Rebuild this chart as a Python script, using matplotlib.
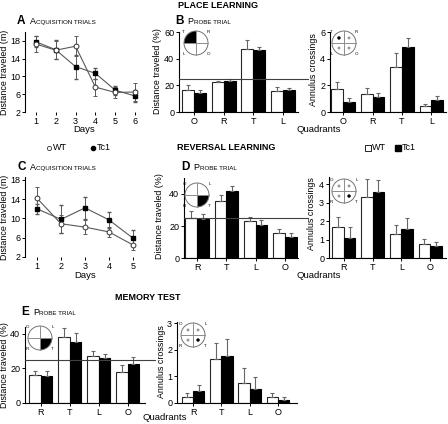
import matplotlib
matplotlib.use('Agg')
import matplotlib.pyplot as plt
from matplotlib.patches import Circle, Wedge, Rectangle
from matplotlib.lines import Line2D
from matplotlib.offsetbox import TextArea, HPacker, AnnotationBbox
import numpy as np

plt.rcParams['font.family'] = ['Liberation Sans', 'DejaVu Sans']
plt.rcParams['font.size'] = 6

W, H = 448, 424

# acquisition trials, place learning (A)
days_a = [1, 2, 3, 4, 5, 6]
wt_a = [17.3, 15.9, 16.8, 7.6, 6.4, 6.5]
wt_a_err = [1.7, 2.0, 2.3, 1.9, 1.2, 2.1]
tc1_a = [17.8, 16.0, 12.2, 10.7, 6.9, 5.6]
tc1_a_err = [1.2, 2.1, 2.7, 1.2, 1.0, 1.4]

# acquisition trials, reversal learning (C)
days_c = [1, 2, 3, 4, 5]
wt_c = [14.2, 8.9, 8.2, 7.2, 4.5]
wt_c_err = [2.4, 1.9, 1.4, 1.1, 1.1]
tc1_c = [12.0, 9.8, 12.2, 9.7, 5.9]
tc1_c_err = [1.1, 2.9, 2.3, 1.7, 1.6]

# probe trial, place learning (B)
quad_b = ['O', 'R', 'T', 'L']
wt_b_dist = [16.2, 22.2, 47.4, 16.0]
wt_b_dist_err = [3.8, 1.1, 6.3, 2.4]
tc1_b_dist = [14.3, 23.3, 46.5, 16.6]
tc1_b_dist_err = [2.4, 1.6, 2.4, 1.6]
wt_b_ann = [1.7, 1.35, 3.4, 0.45]
wt_b_ann_err = [0.55, 0.42, 1.0, 0.18]
tc1_b_ann = [0.78, 1.1, 4.9, 0.9]
tc1_b_ann_err = [0.3, 0.3, 0.65, 0.33]

# probe trial, reversal learning (D)
quad_d = ['R', 'T', 'L', 'O']
wt_d_dist = [25.3, 35.8, 23.2, 15.4]
wt_d_dist_err = [3.8, 3.8, 2.7, 2.5]
tc1_d_dist = [24.2, 42.1, 20.4, 13.3]
tc1_d_dist_err = [3.0, 2.7, 3.2, 2.1]
wt_d_ann = [1.66, 3.33, 1.33, 0.75]
wt_d_ann_err = [0.57, 0.96, 0.48, 0.3]
tc1_d_ann = [1.1, 3.56, 1.56, 0.67]
tc1_d_ann_err = [0.6, 0.69, 0.63, 0.2]

# probe trial, memory test (E)
quad_e = ['R', 'T', 'L', 'O']
wt_e_dist = [16.2, 38.1, 27.1, 18.0]
wt_e_dist_err = [2.5, 5.6, 3.2, 3.8]
tc1_e_dist = [15.6, 35.3, 25.9, 22.5]
tc1_e_dist_err = [2.8, 5.3, 2.5, 4.4]
wt_e_ann = [0.23, 1.66, 0.75, 0.23]
wt_e_ann_err = [0.15, 0.6, 0.57, 0.15]
tc1_e_ann = [0.44, 1.78, 0.54, 0.1]
tc1_e_ann_err = [0.25, 0.63, 0.45, 0.13]

chance = 25


def rect(l, t, r, b):
    return [l / W, 1 - b / H, (r - l) / W, (b - t) / H]


def fx(x):
    return x / W


def fy(y):
    return 1 - y / H


def style_ax(ax, bottom=True):
    for s in ['top', 'right']:
        ax.spines[s].set_visible(False)
    ax.spines['bottom'].set_visible(bottom)
    ax.spines['left'].set_linewidth(0.8)
    ax.spines['bottom'].set_linewidth(0.8)
    ax.tick_params(direction='out', length=2.5, width=0.7, labelsize=6.5, pad=1)


def line_panel(ax, days, wt, wt_err, tc1, tc1_err, yticks, ylim, xlim):
    ax.errorbar(days, tc1, yerr=tc1_err, color='0.35', lw=0.8, elinewidth=0.7, capsize=1.5,
                marker='s', ms=3, mfc='black', mec='black')
    ax.errorbar(days, wt, yerr=wt_err, color='0.35', lw=0.8, elinewidth=0.7, capsize=1.5,
                marker='o', ms=3.5, mfc='white', mec='0.2', mew=0.7)
    ax.set_xticks(days)
    ax.set_yticks(yticks)
    ax.set_ylim(*ylim)
    ax.set_xlim(*xlim)
    style_ax(ax, bottom=False)


def bar_panel(ax, labels, wt, wt_err, tc1, tc1_err, yticks, ylim, xlim, line=False):
    x = np.arange(len(labels))
    w = 0.4
    ax.bar(x - w / 2, wt, w, color='white', edgecolor='0.15', lw=0.8,
           yerr=[np.zeros(len(wt)), wt_err], error_kw=dict(ecolor='0.4', elinewidth=0.8, capsize=1.5, capthick=0.8))
    ax.bar(x + w / 2, tc1, w, color='black', edgecolor='black', lw=0.8,
           yerr=[np.zeros(len(tc1)), tc1_err], error_kw=dict(ecolor='0.4', elinewidth=0.8, capsize=1.5, capthick=0.8))
    if line:
        ax.plot([xlim[0], xlim[1] + 0.35], [chance, chance], color='0.25', lw=0.8, clip_on=False, zorder=5)
    ax.set_xticks(x)
    ax.set_xticklabels(labels, fontsize=7.2)
    ax.set_yticks(yticks)
    ax.set_ylim(*ylim)
    ax.set_xlim(*xlim)
    style_ax(ax)


def pool_inset(fig, cx, cy, labels, target, dots=False, r=12):
    # labels: top-left, top-right, bottom-left, bottom-right
    s = 2 * r + 14
    ax = fig.add_axes(rect(cx - s / 2, cy - s / 2, cx + s / 2, cy + s / 2))
    ax.set_xlim(-s / 2, s / 2)
    ax.set_ylim(-s / 2, s / 2)
    ax.set_aspect('equal')
    ax.axis('off')
    angles = {0: (90, 180), 1: (0, 90), 2: (180, 270), 3: (270, 360)}
    signs = {0: (-1, 1), 1: (1, 1), 2: (-1, -1), 3: (1, -1)}
    if not dots:
        a0, a1 = angles[target]
        ax.add_patch(Wedge((0, 0), r, a0, a1, color='black', lw=0))
    ax.add_patch(Circle((0, 0), r, fill=False, ec='0.45', lw=0.7))
    ax.plot([-r, r], [0, 0], color='0.55', lw=0.7)
    ax.plot([0, 0], [-r, r], color='0.55', lw=0.7)
    for i, lab in enumerate(labels):
        sx, sy = signs[i]
        ax.text(sx * (r + 0.5), sy * (r - 1), lab, fontsize=3.2, ha='center', va='center')
        if dots:
            if i == target:
                ax.add_patch(Circle((sx * r * 0.42, sy * r * 0.42), 1.0, color='black'))
            else:
                ax.add_patch(Circle((sx * r * 0.42, sy * r * 0.42), 1.0, fill=False, ec='0.4', lw=0.5))


def panel_title(fig, x, y, letter, word1, rest):
    parts = [TextArea(letter, textprops=dict(fontsize=8.5, fontweight='bold')),
             TextArea(word1, textprops=dict(fontsize=6.5)),
             TextArea(rest, textprops=dict(fontsize=4.5))]
    box = HPacker(children=[parts[0], HPacker(children=parts[1:], align='baseline', pad=0, sep=0)],
                  align='baseline', pad=0, sep=3)
    ab = AnnotationBbox(box, (fx(x), fy(y)), xycoords='figure fraction', box_alignment=(0, 0.5),
                        frameon=False, pad=0)
    fig.add_artist(ab)


def ylab(fig, x, y, s):
    fig.text(fx(x), fy(y), s, rotation=90, fontsize=6.4, ha='center', va='center')


fig = plt.figure(figsize=(W / 100, H / 100), dpi=100)

# row 1
ax_a = fig.add_axes(rect(25, 32, 145, 112))
line_panel(ax_a, days_a, wt_a, wt_a_err, tc1_a, tc1_a_err, [2, 6, 10, 14, 18], (2, 20), (0.45, 6.5))
fig.text(fx(84), fy(129), 'Days', fontsize=6.8, ha='center', va='center')
ylab(fig, 5, 72, 'Distance traveled (m)')

ax_b = fig.add_axes(rect(179, 32, 298, 112))
bar_panel(ax_b, quad_b, wt_b_dist, wt_b_dist_err, tc1_b_dist, tc1_b_dist_err, [0, 20, 40, 60], (0, 60), (-0.5, 3.5), line=True)
ylab(fig, 157, 71, 'Distance traveled (%)')

ax_b2 = fig.add_axes(rect(330, 32, 446, 112))
bar_panel(ax_b2, quad_b, wt_b_ann, wt_b_ann_err, tc1_b_ann, tc1_b_ann_err, [0, 2, 4, 6], (0, 6), (-0.45, 3.5))
ylab(fig, 313, 70, 'Annulus crossings')

# row 2
ax_c = fig.add_axes(rect(25, 177, 145, 257))
line_panel(ax_c, days_c, wt_c, wt_c_err, tc1_c, tc1_c_err, [2, 6, 10, 14, 18], (2, 18.6), (0.5, 5.5))
fig.text(fx(85), fy(275), 'Days', fontsize=6.8, ha='center', va='center')
ylab(fig, 5, 217, 'Distance traveled (m)')

ax_d = fig.add_axes(rect(184, 178, 298, 258))
bar_panel(ax_d, quad_d, wt_d_dist, wt_d_dist_err, tc1_d_dist, tc1_d_dist_err, [0, 20, 40], (0, 50), (-0.45, 3.45), line=True)
ylab(fig, 159, 216, 'Distance traveled (%)')

ax_d2 = fig.add_axes(rect(329, 177, 446, 258))
bar_panel(ax_d2, quad_d, wt_d_ann, wt_d_ann_err, tc1_d_ann, tc1_d_ann_err, [0, 1, 2, 3, 4], (0, 4.4), (-0.52, 3.55))
ylab(fig, 312, 214, 'Annulus crossings')

# row 3
ax_e = fig.add_axes(rect(25, 327, 145, 403))
bar_panel(ax_e, quad_e, wt_e_dist, wt_e_dist_err, tc1_e_dist, tc1_e_dist_err, [0, 20, 40], (0, 44), (-0.55, 3.6), line=True)
ylab(fig, 5, 365, 'Distance traveled (%)')

ax_e2 = fig.add_axes(rect(177, 322, 297, 403))
bar_panel(ax_e2, quad_e, wt_e_ann, wt_e_ann_err, tc1_e_ann, tc1_e_ann_err, [0, 1, 2, 3], (0, 3.05), (-0.57, 3.67))
ylab(fig, 161, 362, 'Annulus crossings')

# section headings
fig.text(fx(218), fy(6), 'PLACE LEARNING', fontsize=6.5, fontweight='bold', ha='center', va='center')
fig.text(fx(226), fy(148), 'REVERSAL LEARNING', fontsize=6.5, fontweight='bold', ha='center', va='center')
fig.text(fx(148), fy(297), 'MEMORY TEST', fontsize=6.5, fontweight='bold', ha='center', va='center')

panel_title(fig, 17, 21, 'A', 'A', 'CQUISITION TRIALS')
panel_title(fig, 175, 21, 'B', 'P', 'ROBE TRIAL')
panel_title(fig, 17, 167, 'C', 'A', 'CQUISITION TRIALS')
panel_title(fig, 181, 167, 'D', 'P', 'ROBE TRIAL')
panel_title(fig, 21, 312, 'E', 'P', 'ROBE TRIAL')

fig.text(fx(319), fy(130), 'Quadrants', fontsize=6.8, ha='center', va='center')
fig.text(fx(319), fy(276), 'Quadrants', fontsize=6.8, ha='center', va='center')
fig.text(fx(165), fy(418), 'Quadrants', fontsize=6.8, ha='center', va='center')

# legends
fig.add_artist(Line2D([fx(49)], [fy(148)], marker='o', ms=3, mfc='white', mec='0.2', mew=0.6, ls='none'))
fig.text(fx(53), fy(148), 'WT', fontsize=6.5, va='center')
fig.add_artist(Line2D([fx(93)], [fy(148)], marker='o', ms=3, mfc='black', mec='black', ls='none'))
fig.text(fx(97), fy(148), 'Tc1', fontsize=6.5, va='center')
fig.add_artist(Rectangle((fx(365), fy(151)), fx(6), 6 / H, fill=False, ec='black', lw=0.6))
fig.text(fx(372), fy(148), 'WT', fontsize=6.5, va='center')
fig.add_artist(Rectangle((fx(395), fy(151)), fx(6), 6 / H, color='black'))
fig.text(fx(402), fy(148), 'Tc1', fontsize=6.5, va='center')

# pool insets
pool_inset(fig, 196, 43, ['T', 'R', 'L', 'O'], 0)
pool_inset(fig, 344, 43, ['T', 'R', 'L', 'O'], 0, dots=True)
pool_inset(fig, 197, 195, ['O', 'L', 'R', 'T'], 3)
pool_inset(fig, 344, 191, ['O', 'L', 'R', 'T'], 3, dots=True)
pool_inset(fig, 40, 338, ['O', 'L', 'R', 'T'], 3)
pool_inset(fig, 193, 335, ['O', 'L', 'R', 'T'], 3, dots=True)

fig.savefig('out.png', dpi=100)
